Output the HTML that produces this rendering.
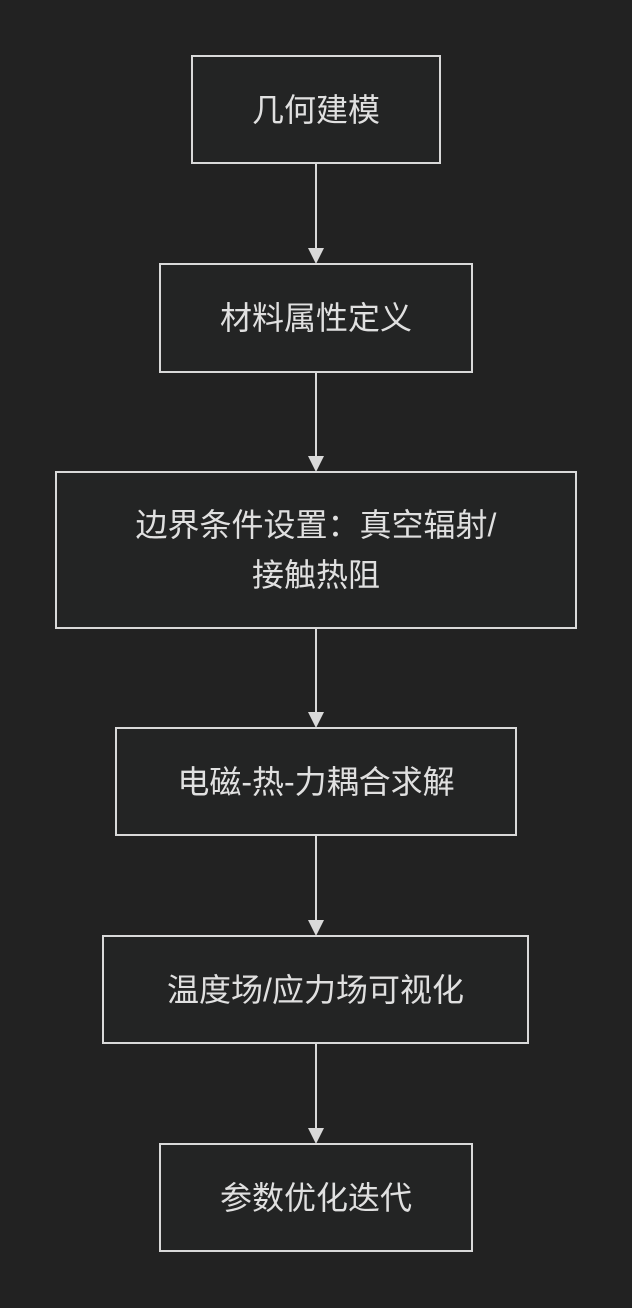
<!DOCTYPE html>
<html><head><meta charset="utf-8"><style>
html,body{margin:0;padding:0;background:#222222;}
body{width:632px;height:1308px;position:relative;overflow:hidden;font-family:"Liberation Sans","Noto Sans CJK SC",sans-serif;}
.b{position:absolute;box-sizing:border-box;border:2px solid #d9d9d9;background:#232424;color:#e0e0e0;font-size:32px;display:flex;align-items:center;justify-content:center;text-align:center;line-height:50px;}
</style></head><body>
<svg width="632" height="1308" style="position:absolute;left:0;top:0">
<g stroke="#d9d9d9" stroke-width="2">
<line x1="316" y1="163" x2="316" y2="252"/>
<line x1="316" y1="372" x2="316" y2="460"/>
<line x1="316" y1="628" x2="316" y2="716"/>
<line x1="316" y1="835" x2="316" y2="924"/>
<line x1="316" y1="1043" x2="316" y2="1132"/>
</g>
<g fill="#d9d9d9">
<polygon points="308,248 324,248 316,264"/>
<polygon points="308,456 324,456 316,472"/>
<polygon points="308,712 324,712 316,728"/>
<polygon points="308,920 324,920 316,936"/>
<polygon points="308,1128 324,1128 316,1144"/>
</g>
</svg>
<div class="b" style="left:191px;top:55px;width:250px;height:109px">几何建模</div>
<div class="b" style="left:159px;top:263px;width:314px;height:110px">材料属性定义</div>
<div class="b" style="left:55px;top:471px;width:522px;height:158px">边界条件设置：真空辐射/<br>接触热阻</div>
<div class="b" style="left:115px;top:727px;width:402px;height:109px">电磁-热-力耦合求解</div>
<div class="b" style="left:102px;top:935px;width:427px;height:109px">温度场/应力场可视化</div>
<div class="b" style="left:159px;top:1143px;width:314px;height:109px">参数优化迭代</div>
</body></html>
